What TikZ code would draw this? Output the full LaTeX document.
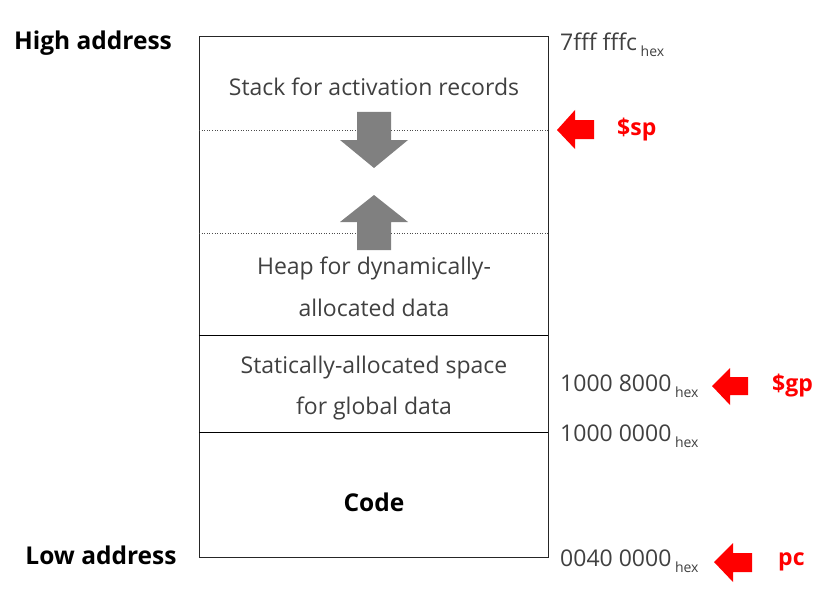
\documentclass[tikz,border=0pt]{standalone}
\usepackage{fontspec}
\setmainfont{Open Sans}
\usetikzlibrary{calc}
\definecolor{txt}{HTML}{404040}
\definecolor{agray}{HTML}{808080}
\begin{document}
\begin{tikzpicture}[x=1pt,y=-1pt,
  lbl/.style={font=\fontsize{23}{26}\selectfont, text=txt, inner sep=0pt},
  blbl/.style={font=\fontsize{24.5}{28}\selectfont\bfseries, text=black, inner sep=0pt},
  addr/.style={font=\fontsize{23}{26}\selectfont, text=txt, inner sep=0pt, anchor=west},
  reg/.style={font=\fontsize{23}{26}\selectfont\bfseries, text=red, inner sep=0pt, anchor=west},
  redarrow/.style={fill=red, draw=none},
  grayarrow/.style={fill=agray, draw=none},
  divider/.style={draw=black, line width=0.8pt},
  dotdiv/.style={draw=black!70, line width=0.6pt, dotted}]
\useasboundingbox (0,0) rectangle (828,594);
% memory box
\coordinate (tl) at (199,36);
\coordinate (br) at (548,557);
\draw[line width=0.9pt, draw=black!85] (tl) rectangle (br);
\draw[dotdiv] (199,130) -- (548,130);
\draw[dotdiv] (199,233) -- (548,233);
\draw[divider] (199,335) -- (548,335);
\draw[divider] (199,432) -- (548,432);
% gray arrows
\fill[grayarrow] (357,112) -- (391,112) -- (391,140) -- (408,140) -- (374,168) -- (340,140) -- (357,140) -- cycle;
\fill[grayarrow] (357,250) -- (391,250) -- (391,222) -- (408,222) -- (374,195) -- (340,222) -- (357,222) -- cycle;
% box texts
\node[lbl] (stack) at (374,87) {Stack for activation records};
\node[lbl] (heap1) at (374,268) {Heap for dynamically-};
\node[lbl] (heap2) at (374,308) {allocated data};
\node[lbl] (stat1) at (374,368) {Statically-allocated space};
\node[lbl] (stat2) at (374,408) {for global data};
\node[blbl] (code) at (374,502) {Code};
% left labels
\node[blbl] (high) at (93,43) {High address};
\node[blbl] (low) at (101,555) {Low address};
% addresses
\newcommand{\hexsub}{\raisebox{-0.5ex}{\fontsize{14}{16}\selectfont\ hex}}
\node[addr] (a1) at (560,45) {7fff fffc\hexsub};
\node[addr] (a2) at (560,386) {1000 8000\hexsub};
\node[addr] (a3) at (560,436) {1000 0000\hexsub};
\node[addr] (a4) at (560,561) {0040 0000\hexsub};
% red arrows
\fill[redarrow] (557,130) -- (575,110) -- (575,120) -- (594,120) -- (594,139) -- (575,139) -- (575,149) -- cycle;
\node[reg] (sp) at (617,130) {\$sp};
\fill[redarrow] (712,386) -- (730,368) -- (730,377) -- (748,377) -- (748,395) -- (730,395) -- (730,405) -- cycle;
\node[reg] (gp) at (772,386) {\$gp};
\fill[redarrow] (714,562) -- (733,543) -- (733,553) -- (752,553) -- (752,572) -- (733,572) -- (733,582) -- cycle;
\node[reg] (pc) at (778,562) {pc};
\end{tikzpicture}
\end{document}
